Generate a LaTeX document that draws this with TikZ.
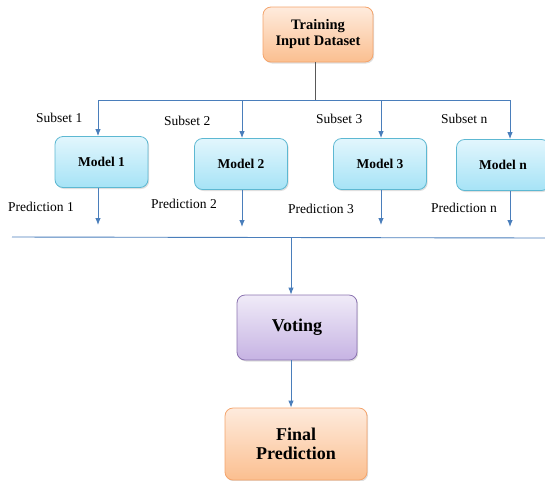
\documentclass[tikz,border=0pt]{standalone}
\usepackage{fontspec}
\setmainfont{Liberation Serif}
\usetikzlibrary{arrows}
\usetikzlibrary{arrows.meta}
\usetikzlibrary{positioning}
\usetikzlibrary{shadows}
\definecolor{linkblue}{HTML}{4A7EBB}
\definecolor{orangeline}{HTML}{F4A46C}
\definecolor{orangetop}{HTML}{FEEBDD}
\definecolor{orangebot}{HTML}{FBBF90}
\definecolor{cyanline}{HTML}{5DB8D2}
\definecolor{cyantop}{HTML}{E2F6FD}
\definecolor{cyanbot}{HTML}{A6E3F6}
\definecolor{purpleline}{HTML}{8B73B0}
\definecolor{purpletop}{HTML}{F0EBF8}
\definecolor{purplebot}{HTML}{C6B3E3}
\tikzstyle{block} = [draw, rounded corners=8pt, line width=0.8pt, align=center,
    font=\bfseries, inner sep=0pt,
    drop shadow={opacity=0.25, shadow xshift=1.2pt, shadow yshift=-1.5pt}]
\tikzstyle{datablock} = [block, draw=orangeline, top color=orangetop, bottom color=orangebot,
    minimum width=110pt, minimum height=55pt, font=\bfseries\fontsize{14.5}{16}\selectfont]
\tikzstyle{model} = [block, draw=cyanline, top color=cyantop, bottom color=cyanbot,
    minimum width=93pt, minimum height=51pt, font=\bfseries\fontsize{13.5}{15}\selectfont]
\tikzstyle{vote} = [block, draw=purpleline, top color=purpletop, bottom color=purplebot,
    minimum width=120pt, minimum height=65pt, font=\bfseries\fontsize{18}{20}\selectfont]
\tikzstyle{final} = [block, draw=orangeline, top color=orangetop, bottom color=orangebot,
    minimum width=142pt, minimum height=72pt, font=\bfseries\fontsize{18}{19.5}\selectfont]
\tikzstyle{lbl} = [anchor=base west, inner sep=0pt, font=\fontsize{13.5}{15}\selectfont]
\tikzstyle{link} = [draw=linkblue, line width=0.9pt]

\begin{document}
\begin{tikzpicture}[x=1pt, y=-1pt, >={Latex[length=7pt,width=5.5pt]}]
    \useasboundingbox (0,0) rectangle (545,480);

    % The blocks
    \node [datablock] (train) at (318,34.5) {Training\\Input Dataset};
    \node [model] (m1) at (101.5,162) {Model 1};
    \node [model] (m2) at (241,164) {Model 2};
    \node [model] (m3) at (380,164) {Model 3};
    \node [model] (mn) at (503,165) {Model n};
    \node [vote] (voting) at (297,327.5) {Voting};
    \node [final] (result) at (296,444) {Final\\Prediction};

    % Branch points and arrow ends
    \coordinate (split) at (315,100);
    \coordinate (s1) at (98,100);
    \coordinate (s2) at (242,100);
    \coordinate (s3) at (381,100);
    \coordinate (sn) at (510,100);
    \coordinate (p1) at (98,225);
    \coordinate (p2) at (242,227);
    \coordinate (p3) at (381,225);
    \coordinate (pn) at (510,227);
    \coordinate (busl) at (12,237);
    \coordinate (busr) at (545,238);
    \coordinate (vin) at (291,237.5);

    % Labels
    \node [lbl] (sub1) at (36,122.5) {Subset 1};
    \node [lbl] (sub2) at (164,125.5) {Subset 2};
    \node [lbl] (sub3) at (316,123.5) {Subset 3};
    \node [lbl] (subn) at (441,123.5) {Subset n};
    \node [lbl] (pred1) at (8,211.5) {Prediction 1};
    \node [lbl] (pred2) at (151,208.5) {Prediction 2};
    \node [lbl] (pred3) at (288,213.5) {Prediction 3};
    \node [lbl] (predn) at (431,212.5) {Prediction n};

    % Connecting them
    \draw [draw=black!65, line width=1pt] (train.south -| split) -- (split);
    \draw [link] (s1) -- (sn);
    \foreach \s/\m in {s1/m1, s2/m2, s3/m3, sn/mn}
        \draw [link,->] (\s) -- (\s |- \m.north);
    \foreach \p/\m in {p1/m1, p2/m2, p3/m3, pn/mn}
        \draw [link,->] (\p |- \m.south) -- (\p);
    \draw [link] (busl) -- (busr);
    \draw [link,->] (vin) -- (vin |- voting.north);
    \draw [link,->] (vin |- voting.south) -- (vin |- result.north);
\end{tikzpicture}
\end{document}
